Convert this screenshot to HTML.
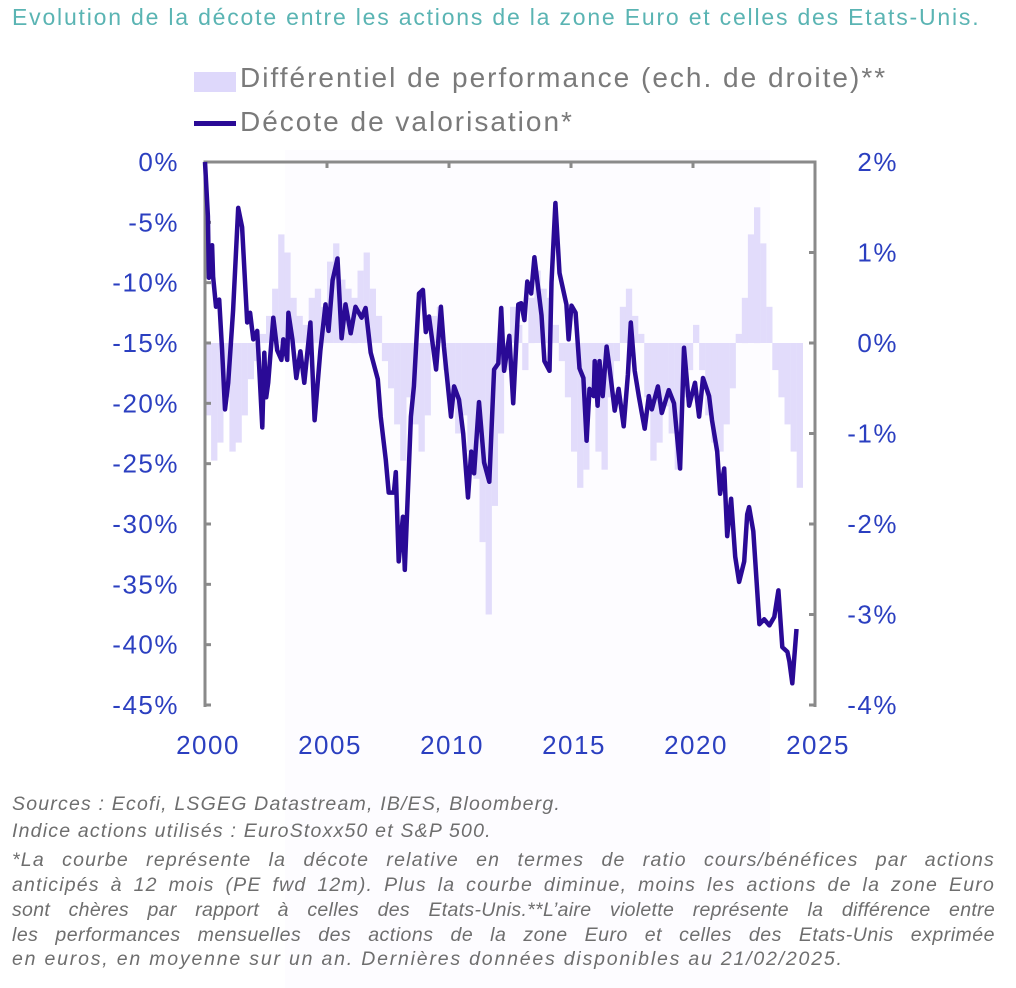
<!DOCTYPE html>
<html><head><meta charset="utf-8">
<style>
html,body{margin:0;padding:0;background:#fff;}
body{width:1016px;height:988px;position:relative;overflow:hidden;font-family:"Liberation Sans",sans-serif;}
.t{position:absolute;white-space:nowrap;}
.fn{position:absolute;left:12px;width:983px;font-style:italic;color:#6e6e6e;font-size:19.5px;letter-spacing:1.2px;white-space:nowrap;}
.j{text-align:justify;text-align-last:justify;}
</style></head>
<body>
<div style="position:absolute;left:285px;top:150px;width:485px;height:838px;background:#fdfcff;"></div>
<div class="t" style="left:12px;top:4px;font-size:23px;letter-spacing:1.8px;color:#5ab4b3;">Evolution de la décote entre les actions de la zone Euro et celles des Etats-Unis.</div>
<div style="position:absolute;left:194px;top:72px;width:42px;height:20px;background:#ded8fb;"></div>
<div class="t" style="left:240px;top:62px;font-size:28px;letter-spacing:2px;color:#7a7a7a;">Différentiel de performance (ech. de droite)**</div>
<div style="position:absolute;left:194px;top:121px;width:42px;height:5px;background:#2a0a96;"></div>
<div class="t" style="left:240px;top:106px;font-size:28px;letter-spacing:2px;color:#7a7a7a;">Décote de valorisation*</div>
<svg id="chart" width="1016" height="988" style="position:absolute;left:0;top:0;"></svg>
<div class="fn" style="top:793px;">Sources : Ecofi, LSGEG Datastream, IB/ES, Bloomberg.</div>
<div class="fn" style="top:820px;">Indice actions utilisés : EuroStoxx50 et S&amp;P 500.</div>
<div class="fn j" style="top:849px;">*La courbe représente la décote relative en termes de ratio cours/bénéfices par actions</div>
<div class="fn j" style="top:874px;">anticipés à 12 mois (PE fwd 12m). Plus la courbe diminue, moins les actions de la zone Euro</div>
<div class="fn j" style="top:899px;letter-spacing:0.3px;">sont chères par rapport à celles des Etats-Unis.**L’aire violette représente la différence entre</div>
<div class="fn j" style="top:924px;letter-spacing:0.5px;">les performances mensuelles des actions de la zone Euro et celles des Etats-Unis exprimée</div>
<div class="fn" style="top:948px;letter-spacing:1.8px;">en euros, en moyenne sur un an. Dernières données disponibles au 21/02/2025.</div>
<script>
const lineYears=[0,.12,.16,.29,.33,.45,.58,.70,.82,.95,1.15,1.36,1.52,1.73,1.85,1.98,2.14,2.22,2.35,2.43,2.51,2.59,2.80,2.96,3.13,3.21,3.37,3.42,3.58,3.74,3.91,4.07,4.32,4.49,4.73,4.94,5.06,5.23,5.43,5.60,5.76,5.97,6.17,6.42,6.58,6.79,7.08,7.20,7.41,7.53,7.74,7.82,7.94,8.11,8.19,8.44,8.56,8.77,8.93,9.05,9.18,9.47,9.67,9.79,10.08,10.21,10.41,10.58,10.78,10.91,11.03,11.23,11.44,11.65,11.85,12.02,12.14,12.26,12.47,12.63,12.84,12.96,13.09,13.21,13.37,13.50,13.79,13.91,14.12,14.20,14.36,14.53,14.81,14.90,15.02,15.19,15.35,15.51,15.64,15.76,15.93,15.97,16.09,16.17,16.30,16.46,16.58,16.79,16.95,17.16,17.33,17.45,17.61,17.78,17.90,18.02,18.19,18.31,18.56,18.72,19.01,19.22,19.47,19.63,19.84,20.08,20.25,20.41,20.66,20.78,20.99,21.11,21.28,21.40,21.56,21.73,21.89,22.10,22.22,22.30,22.47,22.72,22.92,23.13,23.33,23.50,23.66,23.87,23.95,24.07,24.24];
const decote=[0,-4.5,-9.6,-6.9,-9.5,-12,-11.4,-15.6,-20.5,-18.3,-12.3,-3.8,-5.4,-13.3,-12.5,-14.7,-14,-17,-22,-15.8,-19.5,-18.3,-12.9,-15.6,-16.4,-14.7,-16.4,-12.5,-14.7,-17.9,-15.7,-18.3,-13.3,-21.4,-15.6,-11.8,-14,-9.8,-8,-14.6,-11.8,-14.2,-12,-12.9,-12.1,-15.8,-18,-21.1,-24.7,-27.4,-27.4,-25.7,-33.1,-29.4,-33.8,-21.1,-18.6,-10.9,-10.6,-14.1,-12.8,-17.2,-12,-15.3,-21.1,-18.6,-19.7,-22.5,-27.8,-24,-25.8,-19.9,-24.9,-26.5,-17.2,-16.7,-12.1,-17.3,-14.4,-20,-11.8,-11.7,-13.1,-9.9,-10.9,-7.9,-12.7,-16.5,-17.3,-10,-3.4,-9.2,-11.8,-14.7,-11.9,-12.5,-17.1,-17.9,-23.1,-18.8,-19.4,-16.5,-20.2,-16.5,-19.4,-15.3,-17.1,-20.6,-18.8,-21.9,-17.6,-13.3,-17.3,-19.4,-20.8,-22.1,-19.4,-20.5,-18.6,-20.8,-18.9,-20,-25.4,-15.4,-20.2,-18.3,-21.1,-17.9,-19.4,-21.4,-24,-27.5,-25.4,-31,-27.9,-32.7,-34.8,-33.1,-29.2,-28.6,-30.6,-38.3,-37.9,-38.4,-37.7,-35.5,-40.2,-40.6,-41.4,-43.2,-38.7];
const differentiel=[-0.8,-1.3,-1.1,-0.6,-1.2,-1.1,-0.8,-0.4,-0.2,0.1,0.3,0.6,1.2,1.0,0.5,0.3,0.2,0.5,0.6,0.4,0.9,1.1,0.7,0.6,0.5,0.8,1.0,0.6,0.3,-0.2,-0.5,-0.9,-1.3,-0.6,-0.9,-1.2,-0.8,0.3,0.4,-0.3,-0.6,-1.0,-0.8,-1.2,-1.5,-2.2,-3.0,-1.8,-1.0,-0.3,0.4,0.2,-0.3,0.5,0.8,0.6,0.5,0.2,-0.2,-0.6,-1.2,-1.6,-1.4,-0.5,-1.2,-1.4,-0.6,-0.2,0.4,0.6,0.3,0.1,-0.6,-1.3,-1.1,-0.7,-1.0,-1.4,-0.6,-0.3,0.2,-0.3,-0.8,-1.1,-1.2,-0.9,-0.5,0.1,0.5,1.2,1.5,1.1,0.4,-0.3,-0.6,-0.9,-1.2,-1.6];
const leftTicks=[0,-5,-10,-15,-20,-25,-30,-35,-40,-45];
const rightTicks=[2,1,0,-1,-2,-3,-4];
const xTicks=[2000,2005,2010,2015,2020,2025];

const NS='http://www.w3.org/2000/svg';
const svg=document.getElementById('chart');
const X0=205,X1=815,Y0=162,Y1=705;
const xs=y=>X0+(y-2000)/25*(X1-X0);
const yl=v=>Y0+(0-v)/45*(Y1-Y0);
const yr=v=>Y0+(2-v)/6*(Y1-Y0);
function mk(tag,attrs,parent){const e=document.createElementNS(NS,tag);for(const k in attrs)e.setAttribute(k,attrs[k]);(parent||svg).appendChild(e);return e;}

const gb=mk('g',{});


differentiel.forEach((v,i)=>{
  const x=xs(2000+i*0.25);
  const y=Math.min(yr(v),yr(0)),h=Math.abs(yr(v)-yr(0));
  const r=mk('rect',{x:x.toFixed(1),y:y.toFixed(1),width:6.3,height:Math.max(h,0.5).toFixed(1),fill:'#e2dcfb'},gb);
  
  
});

const ax=mk('g',{stroke:'#8a8a8a','stroke-width':3,fill:'none'});


mk('path',{d:`M${X0},${Y1+2}V${Y0}H${X1}V${Y1+2}`},ax);
leftTicks.forEach(v=>mk('path',{d:`M${X0},${yl(v)}h6`},ax));
rightTicks.forEach(v=>mk('path',{d:`M${X1},${yr(v)}h-6`},ax));
xTicks.forEach(v=>mk('path',{d:`M${xs(v)},${Y0}v6`},ax));

let d='';
lineYears.forEach((t,i)=>{d+=(i?'L':'M')+xs(2000+t).toFixed(1)+','+yl(decote[i]).toFixed(1);});
const ln=mk('path',{d:d,fill:'none',stroke:'#2a0a96','stroke-width':4.5,'stroke-linejoin':'round'});



const lab={fill:'#2b3fc0','font-size':26,'letter-spacing':1.5,'font-family':'Liberation Sans, sans-serif'};
leftTicks.forEach(v=>{const t=mk('text',Object.assign({x:179,y:yl(v)+9,'text-anchor':'end'},lab));t.textContent=v+'%';
  
  });
rightTicks.forEach(v=>{const t=mk('text',Object.assign({x:898,y:yr(v)+9,'text-anchor':'end'},lab));t.textContent=v+'%';
  
  });
xTicks.forEach(v=>{const t=mk('text',Object.assign({x:xs(v)+3,y:754,'text-anchor':'middle'},lab));t.textContent=v;
  
  });
</script>
</body></html>
